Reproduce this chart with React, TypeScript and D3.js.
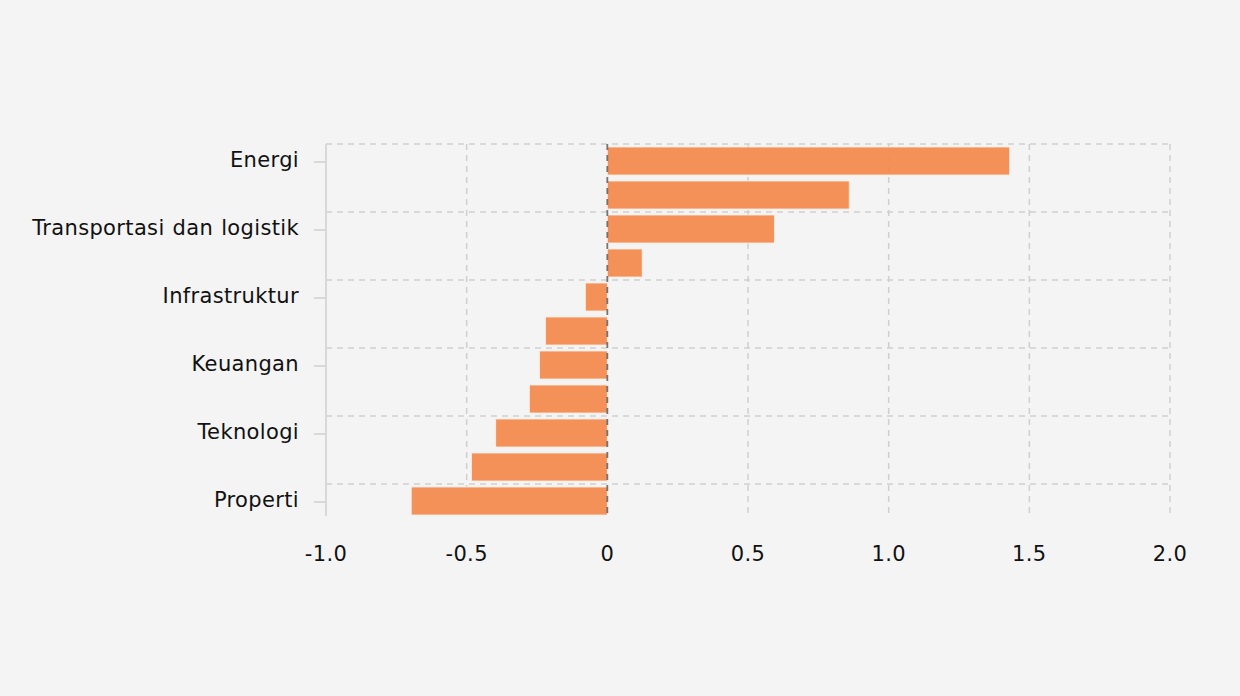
import React, { useEffect, useRef } from "react";
import * as d3 from "d3";

const categories = [
  "Energi",
  "Bahan baku",
  "Transportasi dan logistik",
  "Perindustrian",
  "Infrastruktur",
  "Kesehatan",
  "Keuangan",
  "Barang konsumen primer",
  "Teknologi",
  "Barang konsumen non-primer",
  "Properti",
];
const values = [1.43, 0.86, 0.594, 0.124, -0.078, -0.22, -0.241, -0.277, -0.397, -0.483, -0.697];
const xTicks = [-1, -0.5, 0, 0.5, 1, 1.5, 2];
const labelInterval = 2;

export default function App() {
  const ref = useRef<SVGSVGElement>(null);

  useEffect(() => {
    const svg = d3.select(ref.current);
    svg.selectAll("*").remove();
    const W = 1240, H = 696;
    const left = 326, right = 1170, top = 144, bottom = 518;
    const font = "'DejaVu Sans', Verdana, sans-serif";

    svg.append("rect").attr("width", W).attr("height", H).attr("fill", "#f4f4f4");

    const x = d3.scaleLinear().domain([-1, 2]).range([left, right]);
    const pIn = 6 / 34;
    const y = d3
      .scaleBand<string>()
      .domain(categories)
      .range([top, bottom])
      .paddingInner(pIn)
      .paddingOuter(pIn / 2);
    const step = y.step();
    const boundary = (i: number) => (y(categories[i]) as number) - (step - y.bandwidth()) / 2;

    const grid = svg.append("g").attr("stroke", "#cfcfcf").attr("stroke-width", 1.5).attr("stroke-dasharray", "6,5").attr("fill", "none");
    categories.forEach((_, i) => {
      if (i % labelInterval === 0) {
        const yy = boundary(i);
        grid.append("line").attr("x1", left).attr("x2", right).attr("y1", yy).attr("y2", yy);
      }
    });
    xTicks.forEach((t) => {
      if (t === -1 || t === 0) return;
      grid.append("line").attr("x1", x(t)).attr("x2", x(t)).attr("y1", top).attr("y2", bottom - 2);
    });

    svg
      .append("g")
      .selectAll("rect")
      .data(values)
      .join("rect")
      .attr("x", (d) => Math.min(x(0), x(d)))
      .attr("width", (d) => Math.abs(x(d) - x(0)))
      .attr("y", (_, i) => y(categories[i]) as number)
      .attr("height", y.bandwidth())
      .attr("fill", "#f28b4f")
      .attr("fill-opacity", 0.95)
      .attr("stroke", "rgba(255,240,230,0.8)")
      .attr("stroke-width", 1);

    svg
      .append("line")
      .attr("x1", x(0))
      .attr("x2", x(0))
      .attr("y1", top)
      .attr("y2", bottom - 2)
      .attr("stroke", "#555")
      .attr("stroke-opacity", 0.8)
      .attr("stroke-width", 1.8)
      .attr("stroke-dasharray", "6,5");

    svg
      .append("line")
      .attr("x1", left)
      .attr("x2", left)
      .attr("y1", top)
      .attr("y2", bottom - 2)
      .attr("stroke", "#d8d8d8")
      .attr("stroke-width", 2);

    const yAxis = svg.append("g");
    categories.forEach((c, i) => {
      if (i % labelInterval !== 0) return;
      const cy = (y(c) as number) + y.bandwidth() / 2;
      yAxis
        .append("line")
        .attr("x1", left - 12)
        .attr("x2", left)
        .attr("y1", cy + 1)
        .attr("y2", cy + 1)
        .attr("stroke", "#d8d8d8")
        .attr("stroke-width", 2);
      yAxis
        .append("text")
        .attr("x", left - 27)
        .attr("y", cy)
        .attr("dy", "0.3em")
        .attr("text-anchor", "end")
        .attr("font-family", font)
        .attr("font-size", 21)
        .attr("letter-spacing", 0.35)
        .attr("word-spacing", 1)
        .attr("fill", "#111")
        .text(c);
    });

    const fmt = (v: number) => (v === 0 ? "0" : v.toFixed(1));
    svg
      .append("g")
      .selectAll("text")
      .data(xTicks)
      .join("text")
      .attr("x", (d) => x(d))
      .attr("y", 561)
      .attr("text-anchor", "middle")
      .attr("font-family", font)
      .attr("font-size", 21)
      .attr("letter-spacing", 0.35)
      .attr("fill", "#111")
      .text((d) => fmt(d));
  }, []);

  return (
    <div style={{ position: "absolute", left: 0, top: 0 }}>
      <svg ref={ref} width={1240} height={696} style={{ display: "block" }} />
    </div>
  );
}
